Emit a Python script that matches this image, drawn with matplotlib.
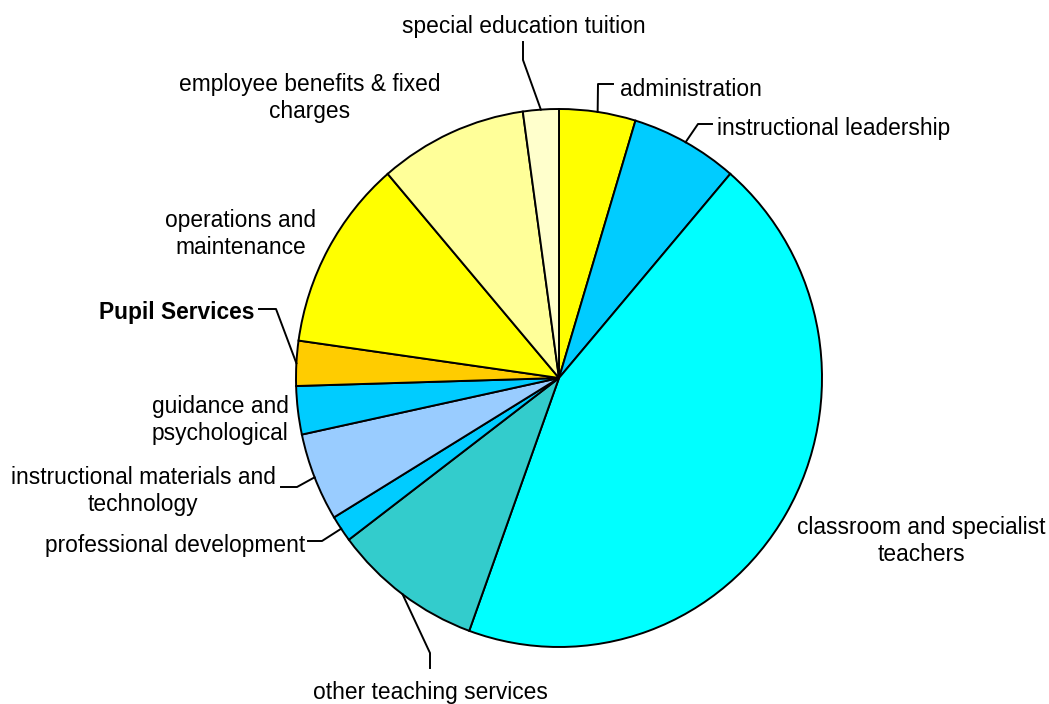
import numpy as np
import matplotlib
matplotlib.use("Agg")
from matplotlib import pyplot as plt

plt.rcParams['font.family'] = ['Liberation Sans', 'DejaVu Sans']

# slices, clockwise from 12 o'clock
categories = ["administration", "instructional leadership",
              "classroom and specialist\nteachers", "other teaching services",
              "professional development", "instructional materials and\ntechnology",
              "guidance and\npsychological", "Pupil Services",
              "operations and\nmaintenance", "employee benefits & fixed\ncharges",
              "special education tuition"]
values = [4.7, 6.6, 44.3, 9.2, 1.6, 5.3, 2.9, 2.7, 11.5, 9.1, 2.2]
colors = ["#FFFF00", "#00CCFF", "#00FFFF", "#33CCCC", "#00CCFF", "#99CCFF",
          "#00CCFF", "#FFCC00", "#FFFF00", "#FFFF99", "#FFFFCC"]

W, H = 1049, 704
cx, cy = 559, 378      # pie centre in pixels
rx, ry = 263, 269      # pie radii in pixels (slightly squashed, like excel)

fig = plt.figure(figsize=(W / 100, H / 100), dpi=100)
ax = fig.add_axes([0, 0, 1, 1])
ax.pie(values, colors=colors, startangle=90, counterclock=False, radius=1,
       wedgeprops=dict(edgecolor="black", linewidth=1.4))
ax.set_aspect("auto")
xmin, xmax = -cx / rx, (W - cx) / rx
ymin, ymax = -(H - cy) / ry, cy / ry
ax.set_xlim(xmin, xmax)
ax.set_ylim(ymin, ymax)
ax.axis("off")


def px(x, y):
    return xmin + x / W * (xmax - xmin), ymax - y / H * (ymax - ymin)


# label layout: (x, y, ha) in pixels, plus leader elbows
layout = {
    0: ((620, 89, "left"), [(598, 84), (613, 84)]),
    1: ((717, 129, "left"), [(698, 124), (712, 124)]),
    2: ((921, 541, "center"), None),
    3: ((430, 692, "center"), [(430, 653), (430, 668)]),
    4: ((305, 545, "right"), [(322, 541), (308, 541)]),
    5: ((143, 491, "center"), [(297, 487), (281, 487)]),
    6: ((220, 420, "center"), None),
    7: ((254, 313, "right"), [(276, 309), (259, 309)]),
    8: ((241, 234, "center"), None),
    9: ((310, 98, "center"), None),
    10: ((524, 27, "center"), [(523, 60), (523, 42)]),
}

total = sum(values)
cum = np.cumsum([0] + values)
for i, name in enumerate(categories):
    (lx, ly, ha), elbow = layout[i]
    ax.text(*px(lx, ly), name, ha=ha, va="center", fontsize=16.4,
            multialignment="center", linespacing=1.2,
            fontweight="bold" if name == "Pupil Services" else "normal")
    if elbow:
        mid = np.deg2rad(90 - 360 * (cum[i] + values[i] / 2) / total)
        pts = [(np.cos(mid), np.sin(mid))] + [px(x, y) for x, y in elbow]
        ax.plot([p[0] for p in pts], [p[1] for p in pts], color="black", lw=1.4)

plt.savefig("out.png", dpi=100)
